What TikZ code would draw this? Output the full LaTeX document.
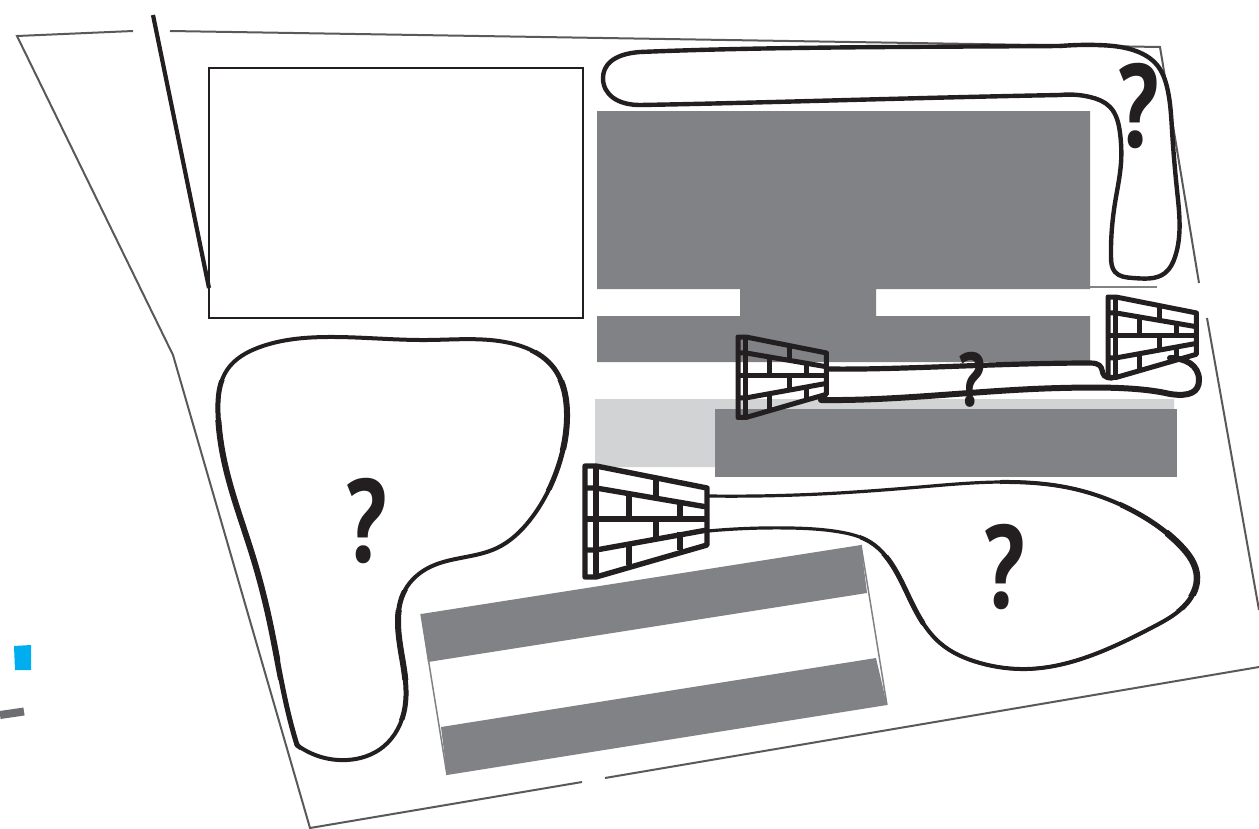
\documentclass[tikz,border=0pt]{standalone}
\usepackage{fontspec}
\usepackage{graphicx}
\usetikzlibrary{hobby}
\setmainfont{PT Sans}
\definecolor{ink}{HTML}{231F20}
\definecolor{bldg}{HTML}{808285}
\definecolor{lite}{HTML}{D1D3D4}
\definecolor{edge}{HTML}{58595B}
\definecolor{stub}{HTML}{6D6E71}
\definecolor{cy}{HTML}{00AEEF}
\tikzset{
  boundary/.style={draw=edge,line width=2pt},
  curve/.style={use Hobby shortcut,draw=ink,line join=round,line cap=round,line width=#1},
  stroke/.style={draw=ink,line join=round,line cap=round,line width=#1},
  q/.style={text=ink,inner sep=0pt,font=\bfseries\fontsize{118}{118}\selectfont},
  qs/.style={text=ink,inner sep=0pt,font=\bfseries\fontsize{76}{76}\selectfont},
}
\newcommand{\brickwall}[4]{%
\begin{scope}[shift={(#1,#2)},scale=#3,draw=ink,line width=#4pt,line cap=butt]
  \draw[line join=round] (0,0)--(11,0)--(122,22)--(122,79)--(11,111)--(0,111)--cycle;
  \draw (11,0)--(11,111);
  \draw (0,22)--(11,22)--(122,41);
  \draw (0,53)--(122,53);
  \draw (0,84)--(11,84)--(122,64);
  \draw (71,14)--(71,32);
  \draw (44,27)--(44,53);
  \draw (95,36)--(95,53);
  \draw (71,53)--(71,73);
  \draw (95,66)--(95,84);
  \draw (44,76)--(44,99);
\end{scope}}
\newcommand{\leftblob}{(297,745) .. (347,760) .. (383,747) .. (405,707) .. (398,623) .. (405,590) .. (430,567) .. (497,548) .. (530,520) .. (557,470) .. (567,413) .. (553,367) .. (510,343) .. (427,340) .. (327,337) .. (260,347) .. (227,370) .. (218,413) .. (227,473) .. (253,557) .. (270,623) .. (290,720) .. (297,745)}
\newcommand{\lowblob}{(708,496) .. (820,494) .. (920,487) .. (1000,482) .. (1070,488) .. (1137,513) .. (1180,545) .. (1197,577) .. (1187,603) .. (1153,627) .. (1087,657) .. (1027,669) .. (980,663) .. (940,643) .. (917,613) .. (897,573) .. (870,542) .. (840,532) .. (790,528) .. (708,531)}
\begin{document}
\begin{tikzpicture}[x=1pt,y=-1pt]
\useasboundingbox (0,0) rectangle (1259,828);
% boundary
\draw[boundary] (133,31)--(17,36)--(173,355)--(310,828)--(582,782);
\draw[boundary] (605,778)--(1259,667);
\draw[boundary] (170,31)--(1160,47)--(1199,283);
\draw[boundary] (1207,318)--(1259,610);
% road stub and marker
\fill[cy] (14,646)--(31,645)--(31,670)--(15,670)--cycle;
\draw[stub,line width=8pt] (0,715)--(24,711.5);
% plot rectangle
\draw[ink,line width=2.6pt] (209,68) rectangle (583,318);
\draw[ink,line width=4.2pt] (153,15)--(209,288);
% buildings
\fill[lite] (595,399)--(1174,399)--(1174,409)--(715,409)--(715,467)--(595,467)--cycle;
\fill[bldg] (597,111)--(1090,111)--(1090,289)--(876,289)--(876,316)--(1090,316)--(1090,362)--(597,362)--(597,316)--(740,316)--(740,289)--(597,289)--cycle;
\fill[bldg] (715,409) rectangle (1177,477);
\fill[bldg] (421,614)--(861,545)--(867,593)--(428,662)--cycle;
\fill[bldg] (441,727)--(876,658)--(887,705)--(447,775)--cycle;
\draw[bldg,line width=1.5pt] (861,545)--(887,705);
\draw[bldg,line width=1.5pt] (421,614)--(447,775);
\draw[bldg,line width=1.8pt] (1090,287)--(1157,287);
% top blob
\draw[stroke=4.4pt] (1060,46) .. controls (900,47) and (760,47) .. (640,52) .. controls (612,54) and (603,66) .. (603,78) .. controls (603,95) and (618,105) .. (640,105) .. controls (760,103) and (900,98) .. (1060,95);
\draw[curve=4.4pt] (1060,46) .. (1097,45) .. (1133,50) .. (1157,65) .. (1167,87) .. (1172,130) .. (1177,190) .. (1175,257) .. (1165,273) .. (1133,278) .. (1115,272) .. (1111,257) .. (1115,203) .. (1121,163) .. (1120,133) .. (1110,107) .. (1090,97) .. (1060,95);
% left blob
\draw[curve=4pt] \leftblob;
\begin{scope}
  \clip (200,380) rectangle (300,760) (380,590) rectangle (420,720) (530,350) rectangle (590,490);
  \draw[curve=5pt] \leftblob;
\end{scope}
\begin{scope}
  \clip (200,420) rectangle (280,680) (385,610) rectangle (420,680) (550,380) rectangle (590,450);
  \draw[curve=6pt] \leftblob;
\end{scope}
% middle strip
\draw[stroke=5.2pt] (828,369) .. controls (900,370) and (1000,363) .. (1090,363) .. controls (1110,363) and (1095,378) .. (1112,378);
\draw[stroke=6pt] (821,400) .. controls (900,401) and (980,390) .. (1060,388) .. controls (1100,387) and (1140,387) .. (1170,394) .. controls (1190,397) and (1199,392) .. (1199,380) .. controls (1199,365) and (1185,358) .. (1170,358);
% lower right blob
\draw[curve=3.2pt] \lowblob;
\begin{scope}
  \clip (1000,470) rectangle (1230,690) (860,530) rectangle (1000,690);
  \draw[curve=4pt] \lowblob;
\end{scope}
\begin{scope}
  \clip (1120,490) rectangle (1230,610) (880,555) rectangle (925,625);
  \draw[curve=5pt] \lowblob;
\end{scope}
\begin{scope}
  \clip (1165,530) rectangle (1230,595);
  \draw[curve=6.5pt] \lowblob;
\end{scope}
% walls
\brickwall{585}{466}{1}{5.4}
\brickwall{738}{337}{.725}{5}
\brickwall{1108}{297}{.725}{5}
% question marks
\node[q] (q1) at (1138,106.5) {\scalebox{.78}[1]{?}};
\node[q] (q2) at (366,521.5) {\scalebox{.78}[1]{?}};
\node[q] (q3) at (1004,567) {\scalebox{.78}[1]{?}};
\node[qs] (q4) at (972,380) {\scalebox{.78}[1]{?}};
\end{tikzpicture}
\end{document}
